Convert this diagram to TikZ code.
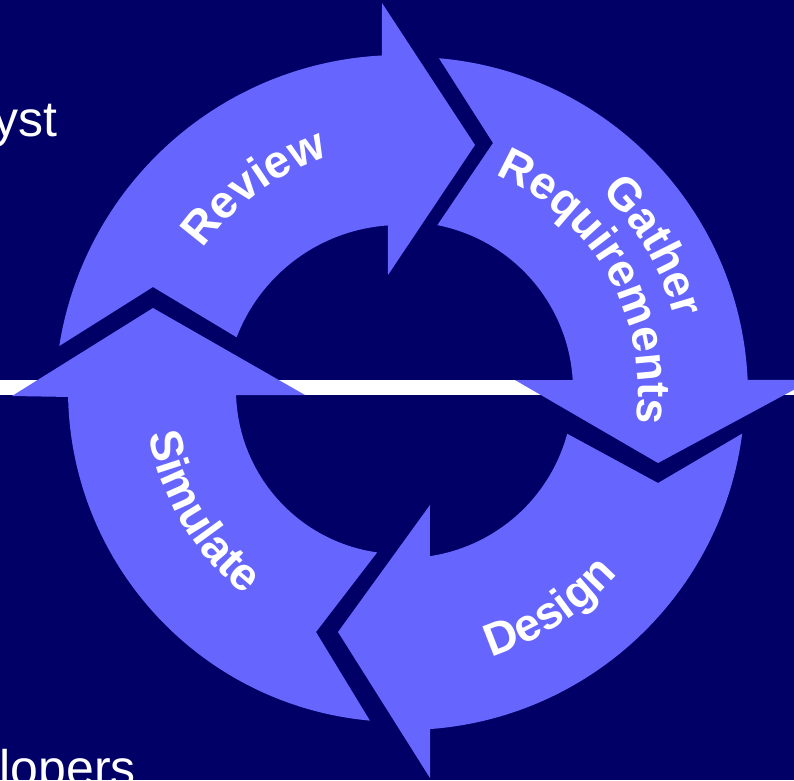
\documentclass[tikz,border=0pt]{standalone}
\usepackage{fontspec}
\setmainfont{Liberation Sans}
\usetikzlibrary{decorations.text}

\definecolor{navybg}{HTML}{000066}
\definecolor{arrowblue}{HTML}{6666FF}

\newcommand\cyclelabelfont{\fontsize{46}{46}\selectfont\bfseries}

\tikzset{
  arrowshape/.style={fill=arrowblue},
  cyclelabel/.style={decorate, decoration={text along path,
      text={|\cyclelabelfont|#1}, text color=white, text align=center}},
  bullettext/.style={text=white, font=\fontsize{50}{50}\selectfont, inner sep=0pt}
}

\begin{document}
\begin{tikzpicture}[x=1pt, y=1pt]
  \useasboundingbox (0,0) rectangle (794,780);
  \clip (0,0) rectangle (794,780);
  \fill[navybg] (0,0) rectangle (794,780);

  % slide text behind the cycle
  \node[bullettext, anchor=base east] (analyst) at (58,643) {yst};
  \node[bullettext, anchor=base east] (developers) at (136,-5) {lopers};

  % white rule across the slide
  \fill[white] (0,385) rectangle (794,400);

  % Review: left -> top
  \fill[arrowshape] ([shift={(400,380)}]171:345)
    arc[start angle=171, end angle=93, radius=345]
    -- (382,777) -- (475,635) -- (388,505)
    -- ([shift={(400,380)}]94:175)
    arc[start angle=94, end angle=159, radius=175]
    -- (153,493) -- cycle;

  % Gather Requirements: top -> right
  \fill[arrowshape] ([shift={(410,385)}]85.08:338)
    arc[start angle=85.08, end angle=2.55, radius=338]
    -- (812,400) -- (658,317) -- (515,400)
    -- ([shift={(405,390)}]3.4:168)
    arc[start angle=3.4, end angle=78.9, radius=168]
    -- (493,637) -- cycle;

  % Design: right -> bottom
  \fill[arrowshape] ([shift={(405,390)}]-7.37:340)
    arc[start angle=-7.37, end angle=-85.76, radius=340]
    -- (430,2) -- (338,148) -- (430,275)
    -- ([shift={(405,390)}]-81.5:168)
    arc[start angle=-81.5, end angle=-15.1, radius=168]
    -- (658,297) -- cycle;

  % Simulate: bottom -> left
  \fill[arrowshape] ([shift={(400,390)}]264.8:332)
    arc[start angle=264.8, end angle=181.2, radius=332]
    -- (12,384) -- (153,472) -- (305,385)
    -- ([shift={(400,390)}]181.8:164)
    arc[start angle=181.8, end angle=262, radius=164]
    -- (316,148) -- cycle;

  % labels set along the ring
  \path[cyclelabel={Review}, shift={(405,390)}]
    (151.6:246) arc[start angle=151.6, end angle=101.6, radius=246];
  \path[cyclelabel={Gather}, shift={(405,390)}]
    (55.5:279) arc[start angle=55.5, end angle=4.5, radius=279];
  \path[cyclelabel={Requirements}, shift={(405,390)}]
    (75:233) arc[start angle=75, end angle=-16, radius=233];
  \path[cyclelabel={Design}, shift={(405,390)}]
    (-82:281) arc[start angle=-82, end angle=-31, radius=281];
  \path[cyclelabel={Simulate}, shift={(405,390)}]
    (185.5:260) arc[start angle=185.5, end angle=236.5, radius=260];
\end{tikzpicture}
\end{document}
